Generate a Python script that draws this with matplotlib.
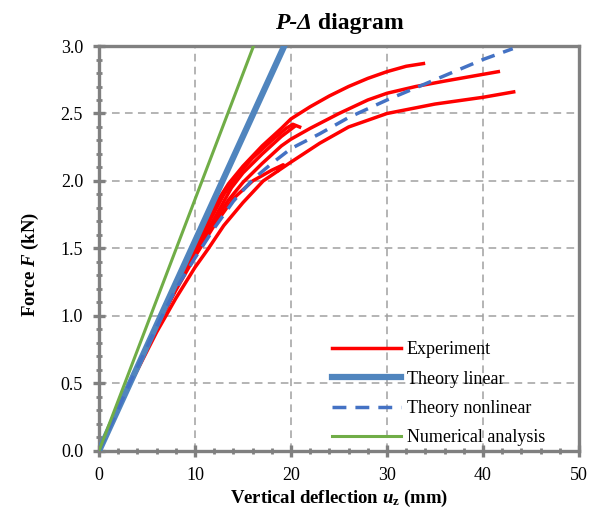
import matplotlib
matplotlib.use("Agg")
import matplotlib.pyplot as plt
from matplotlib.ticker import MultipleLocator, FormatStrFormatter

plt.rcParams['font.family'] = ['Liberation Serif', 'DejaVu Serif']
plt.rcParams['mathtext.fontset'] = 'custom'
plt.rcParams['mathtext.rm'] = 'Liberation Serif:bold'
plt.rcParams['mathtext.it'] = 'Liberation Serif:bold:italic'
plt.rcParams['mathtext.bf'] = 'Liberation Serif:bold'

# experiment curves
exp_a_x = [0, 3, 6, 8, 9.7, 11, 12.5, 13.5, 15, 17, 19, 20, 22, 24, 26, 28, 30, 32, 33.8]
exp_a_y = [0, 0.47, 0.93, 1.23, 1.5, 1.68, 1.87, 1.98, 2.11, 2.26, 2.39, 2.46, 2.55, 2.63, 2.7, 2.76, 2.81, 2.85, 2.87]
exp_b_x = [0, 3, 6, 8, 10, 12, 13.5, 15, 17, 19, 20, 22, 25, 28, 30, 33, 36, 40, 41.6]
exp_b_y = [0, 0.47, 0.92, 1.2, 1.46, 1.7, 1.86, 1.99, 2.13, 2.26, 2.31, 2.39, 2.5, 2.6, 2.65, 2.7, 2.74, 2.79, 2.81]
exp_c_x = [0, 3, 6, 8, 10, 11.4, 13, 15, 17.1, 20, 23, 26, 30, 35, 40, 43.2]
exp_c_y = [0, 0.46, 0.88, 1.13, 1.36, 1.5, 1.67, 1.84, 2.0, 2.14, 2.28, 2.4, 2.5, 2.57, 2.62, 2.66]
exp_d_x = [0, 3, 6, 8, 10, 11.5, 13, 14.5, 16, 18, 19.5, 20.2, 20.9]
exp_d_y = [0, 0.47, 0.93, 1.22, 1.5, 1.7, 1.9, 2.05, 2.17, 2.3, 2.39, 2.42, 2.4]
exp_d2_x = [0, 3, 6, 8, 10, 12, 13.8, 15, 17, 19, 20.3]
exp_d2_y = [0, 0.47, 0.92, 1.21, 1.47, 1.72, 1.95, 2.06, 2.2, 2.33, 2.4]
exp_e_x = [0, 3, 6, 8, 10, 12, 14, 16, 18, 19.2, 18.7]
exp_e_y = [0, 0.47, 0.92, 1.19, 1.44, 1.67, 1.87, 2.0, 2.08, 2.12, 2.08]

lin_x = [0, 19.3]
lin_y = [0, 3.0]
nonlin_x = [0, 3, 6, 8, 10, 12, 14, 16, 18, 20, 23, 26, 30, 35, 40, 43.1]
nonlin_y = [0, 0.47, 0.92, 1.2, 1.43, 1.65, 1.85, 2.01, 2.13, 2.24, 2.35, 2.47, 2.6, 2.75, 2.9, 2.98]
num_x = [0, 16.1]
num_y = [0, 3.0]

fig = plt.figure(figsize=(5.97, 5.21), dpi=100)
ax = fig.add_axes([0.1658, 0.1344, 0.804, 0.7773])

red = '#FF0000'
ax.plot(exp_a_x, exp_a_y, color=red, lw=2.5, label='Experiment', zorder=3)
for xs, ys in [(exp_b_x, exp_b_y), (exp_c_x, exp_c_y), (exp_d_x, exp_d_y),
               (exp_d2_x, exp_d2_y), (exp_e_x, exp_e_y)]:
    ax.plot(xs, ys, color=red, lw=2.5, zorder=3)
ax.plot(lin_x, lin_y, color='#5085BE', lw=4.5, label='Theory linear', zorder=4)
ax.plot(nonlin_x, nonlin_y, color='#4472C4', lw=2.5, dashes=(4, 2.6),
        label='Theory nonlinear', zorder=5)
ax.plot(num_x, num_y, color='#70AD47', lw=2.2, label='Numerical analysis', zorder=6)

ax.set_xlim(0, 50)
ax.set_ylim(0, 3.0)
ax.xaxis.set_major_locator(MultipleLocator(10))
ax.xaxis.set_minor_locator(MultipleLocator(2))
ax.yaxis.set_major_locator(MultipleLocator(0.5))
ax.yaxis.set_minor_locator(MultipleLocator(0.1))
ax.yaxis.set_major_formatter(FormatStrFormatter('%.1f'))

ax.grid(True, which='major', color='#A0A0A0', lw=1.1, linestyle=(0, (5, 3.5)))
ax.set_axisbelow(True)
for s in ax.spines.values():
    s.set_color('#808080')
    s.set_linewidth(2.4)
ax.tick_params(which='major', direction='inout', length=9, width=2.4,
               color='#808080', labelsize=13, pad=7)
ax.tick_params(which='minor', direction='inout', length=5, width=2.0, color='#808080')

# title: italic "P-Δ" + bold " diagram"
fig.text(0.523, 0.944, 'P-Δ', fontsize=17, fontweight='bold', fontstyle='italic',
         ha='right', va='baseline')
fig.text(0.523, 0.944, ' diagram', fontsize=17, fontweight='bold',
         ha='left', va='baseline')

ax.set_xlabel(r'Vertical deflection $u_{\mathbf{z}}$ (mm)', fontsize=13.5,
              fontweight='bold', labelpad=3)
ax.set_ylabel(r'Force $F$ (kN)', fontsize=13.5, fontweight='bold')
ax.yaxis.set_label_coords(-0.121, 0.46)

ax.legend(loc='lower right', bbox_to_anchor=(0.952, -0.015), frameon=False,
          fontsize=13, handlelength=3.8, labelspacing=0.68, handletextpad=0.35,
          borderaxespad=0.2)

fig.savefig('out.png', dpi=100)
